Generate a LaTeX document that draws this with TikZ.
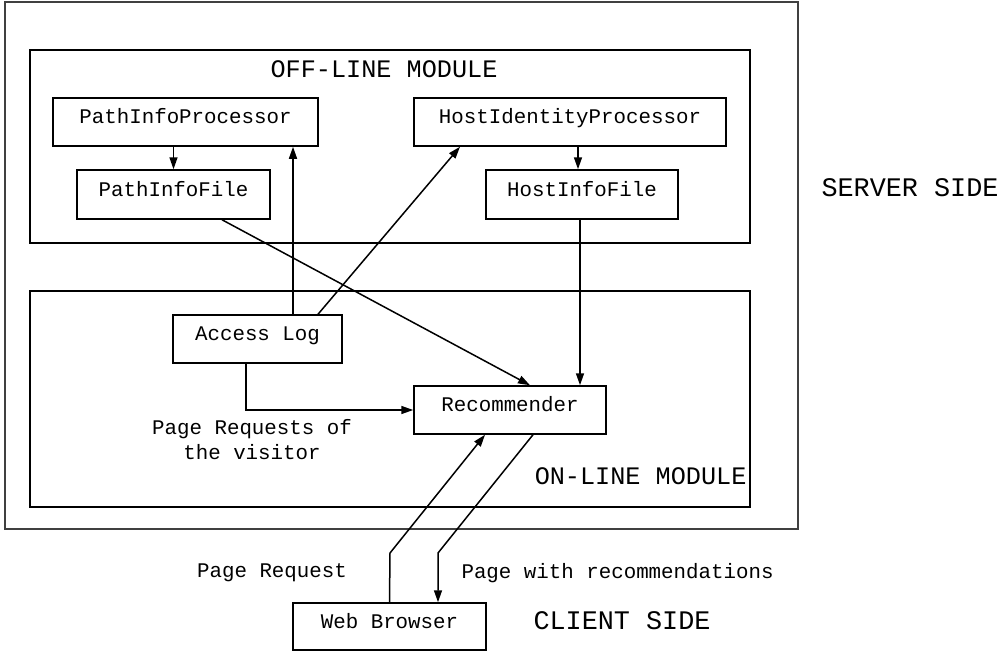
\documentclass[tikz,border=0pt]{standalone}
\usepackage{fontspec}
\setmainfont{Liberation Mono}
\usetikzlibrary{arrows.meta}
\tikzset{
  x=1pt, y=-1pt,
  smalltext/.style={font=\fontsize{20.8}{25}\selectfont},
  bigtext/.style={font=\fontsize{25.2}{30}\selectfont},
  sidetext/.style={font=\fontsize{26.8}{32}\selectfont},
  comp/.style={draw, line width=1.5pt, inner sep=0pt, smalltext,
    text height=0.62em, text depth=0.3em},
  modbox/.style={draw, line width=1.6pt, inner sep=0pt},
  arr/.style={line width=1.5pt, -{Triangle[length=12pt,width=8pt]}},
  ln/.style={line width=1.5pt},
}
\begin{document}
\begin{tikzpicture}
\useasboundingbox (0,0) rectangle (1002,653);

% server side and the two modules
\node[draw, line width=1.3pt, draw=black!75, minimum width=793pt, minimum height=527pt, inner sep=0pt] (server) at (401.5,265.5) {};
\node[modbox, minimum width=720pt, minimum height=193pt] (offmod) at (390,146.5) {};
\node[modbox, minimum width=720pt, minimum height=216pt] (onmod) at (390,399) {};

\node[bigtext] (offlabel) at (384,69) {OFF-LINE MODULE};
\node[bigtext, anchor=east] (onlabel) at (750,476) {ON-LINE MODULE};
\node[sidetext, anchor=west] (serverlabel) at (818,188) {SERVER SIDE};
\node[sidetext, anchor=west] (clientlabel) at (530,621) {CLIENT SIDE};

% components
\node[comp, minimum width=265pt, minimum height=48pt] (pip) at (185.5,122) {PathInfoProcessor};
\node[comp, minimum width=193pt, minimum height=49pt] (pif) at (173.5,194.5) {PathInfoFile};
\node[comp, minimum width=312pt, minimum height=48pt] (hip) at (570,122) {HostIdentityProcessor};
\node[comp, minimum width=192pt, minimum height=49pt] (hif) at (582,194.5) {HostInfoFile};
\node[comp, minimum width=169pt, minimum height=48pt] (alog) at (257.5,339) {Access Log};
\node[comp, minimum width=192pt, minimum height=48pt] (rec) at (510,410) {Recommender};
\node[comp, minimum width=193pt, minimum height=47pt] (wb) at (389.5,626.5) {Web Browser};

% labels on the request flow
\node[smalltext, align=center] (pagereqs) at (252,440) {Page Requests of\\ the visitor};
\node[smalltext] (reqlabel) at (272,573) {Page Request};
\node[smalltext, anchor=west] (reslabel) at (458,573) {Page with recommendations};

% off-line processing
\draw[arr] (pif.north |- pip.south) -- (pif.north);
\draw[arr] ([xshift=-4pt]hif.north |- hip.south) -- ([xshift=-4pt]hif.north);
\draw[arr] ([xshift=35.5pt]alog.north) -- ([xshift=35.5pt]alog.north |- pip.south);
\draw[arr] ([xshift=60.5pt]alog.north) -- ([xshift=-110pt]hip.south);

% inputs of the recommender
\draw[arr] ([xshift=48.5pt]pif.south) -- ([xshift=20pt]rec.north);
\draw[arr] ([xshift=-2pt]hif.south) -- ([xshift=-2pt]hif.south |- rec.north);
\draw[arr] ([xshift=-11.5pt]alog.south) |- (rec.west);

% client interaction
\coordinate (reqbend) at (390,553);
\coordinate (resbend) at (438,553);
\draw[arr] (wb.north) -- (reqbend) -- ([xshift=-25pt]rec.south);
\draw[arr] ([xshift=23pt]rec.south) -- (resbend) -- (resbend |- wb.north);
\end{tikzpicture}
\end{document}
